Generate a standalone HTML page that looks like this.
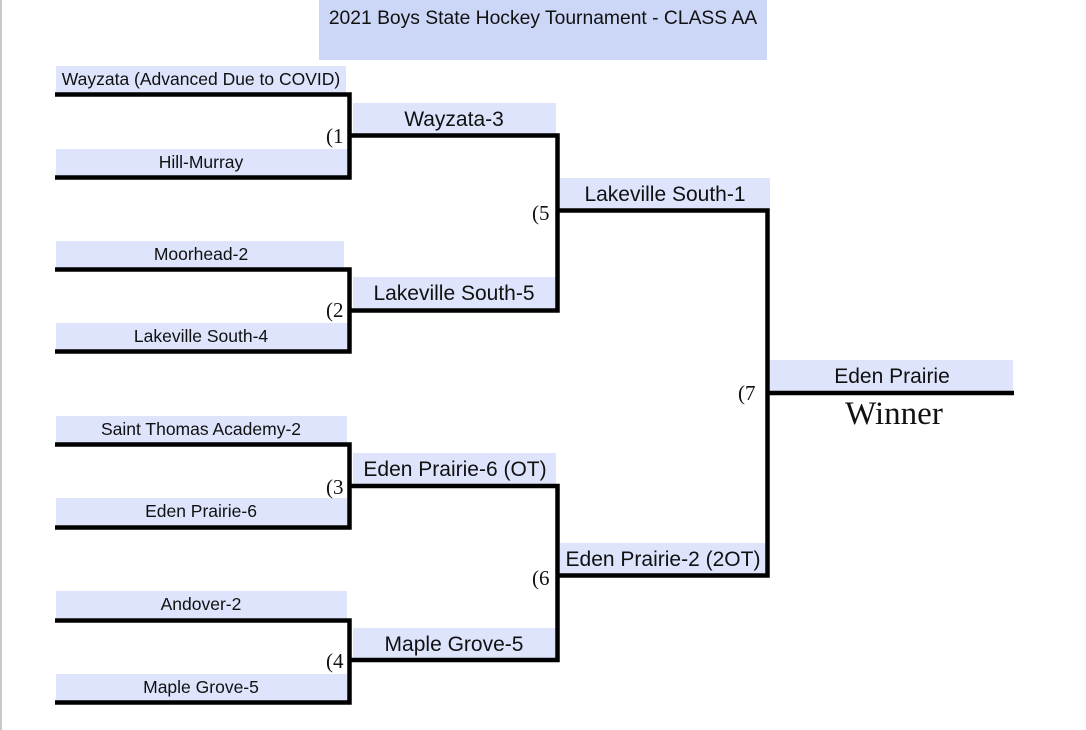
<!DOCTYPE html>
<html><head><meta charset="utf-8"><style>
html,body{margin:0;padding:0;background:#fff;}
svg{display:block;}
text{font-family:"Liberation Sans",sans-serif;fill:#111;}
.s{font-family:"Liberation Serif",serif;}
</style></head><body>
<svg width="1086" height="730" viewBox="0 0 1086 730" xmlns="http://www.w3.org/2000/svg">
<rect x="0" y="0" width="2" height="730" fill="#c8c8c8"/>
<rect x="319" y="0" width="448" height="60" fill="#ccd7f8"/>
<text x="543" y="24" font-size="19.3" text-anchor="middle">2021 Boys State Hockey Tournament - CLASS AA</text>

<g fill="#dde4fb">
<rect x="56" y="66" width="290" height="27"/>
<rect x="56" y="149" width="293" height="27"/>
<rect x="56" y="241" width="288" height="27"/>
<rect x="56" y="323" width="293" height="27"/>
<rect x="56" y="416" width="291" height="27"/>
<rect x="56" y="498" width="293" height="27"/>
<rect x="56" y="591" width="291" height="27"/>
<rect x="56" y="674" width="293" height="27"/>
<rect x="353" y="103" width="203" height="31"/>
<rect x="353" y="277" width="203" height="31"/>
<rect x="353" y="453" width="203" height="31"/>
<rect x="353" y="628" width="203" height="31"/>
<rect x="560" y="178" width="210" height="31"/>
<rect x="560" y="543" width="206" height="31"/>
<rect x="770" y="360" width="243" height="31"/>
</g>

<g fill="none" stroke="#000" stroke-width="4.5">
<polyline points="55,94.5 349.5,94.5 349.5,177.5 55,177.5"/>
<polyline points="55,269.5 349.5,269.5 349.5,351.5 55,351.5"/>
<polyline points="55,444.5 349.5,444.5 349.5,527.5 55,527.5"/>
<polyline points="55,620.5 349.5,620.5 349.5,702.5 55,702.5"/>
<polyline points="349.5,135.5 557.5,135.5 557.5,310.5 349.5,310.5"/>
<polyline points="349.5,486 557.5,486 557.5,660 349.5,660"/>
<polyline points="557.5,210.5 767.5,210.5 767.5,575.5 557.5,575.5"/>
<line x1="767.5" y1="393" x2="1014" y2="393"/>
</g>

<g font-size="17.5" text-anchor="middle">
<text x="201" y="85">Wayzata (Advanced Due to COVID)</text>
<text x="201" y="168">Hill-Murray</text>
<text x="201" y="260">Moorhead-2</text>
<text x="201" y="342">Lakeville South-4</text>
<text x="201" y="435">Saint Thomas Academy-2</text>
<text x="201" y="517">Eden Prairie-6</text>
<text x="201" y="610">Andover-2</text>
<text x="201" y="693">Maple Grove-5</text>
</g>
<g font-size="21" text-anchor="middle">
<text x="454" y="126">Wayzata-3</text>
<text x="454" y="300">Lakeville South-5</text>
<text x="455" y="476">Eden Prairie-6 (OT)</text>
<text x="454" y="651">Maple Grove-5</text>
<text x="665" y="201">Lakeville South-1</text>
<text x="663" y="566">Eden Prairie-2 (2OT)</text>
<text x="892" y="383">Eden Prairie</text>
</g>
<g font-size="21">
<text class="s" x="326" y="143">(1</text>
<text class="s" x="326" y="317">(2</text>
<text class="s" x="326" y="494">(3</text>
<text class="s" x="326" y="668">(4</text>
<text class="s" x="532" y="220">(5</text>
<text class="s" x="532" y="585">(6</text>
<text class="s" x="738" y="400">(7</text>
</g>
<text class="s" x="894" y="424" font-size="33" text-anchor="middle">Winner</text>
</svg>
</body></html>
